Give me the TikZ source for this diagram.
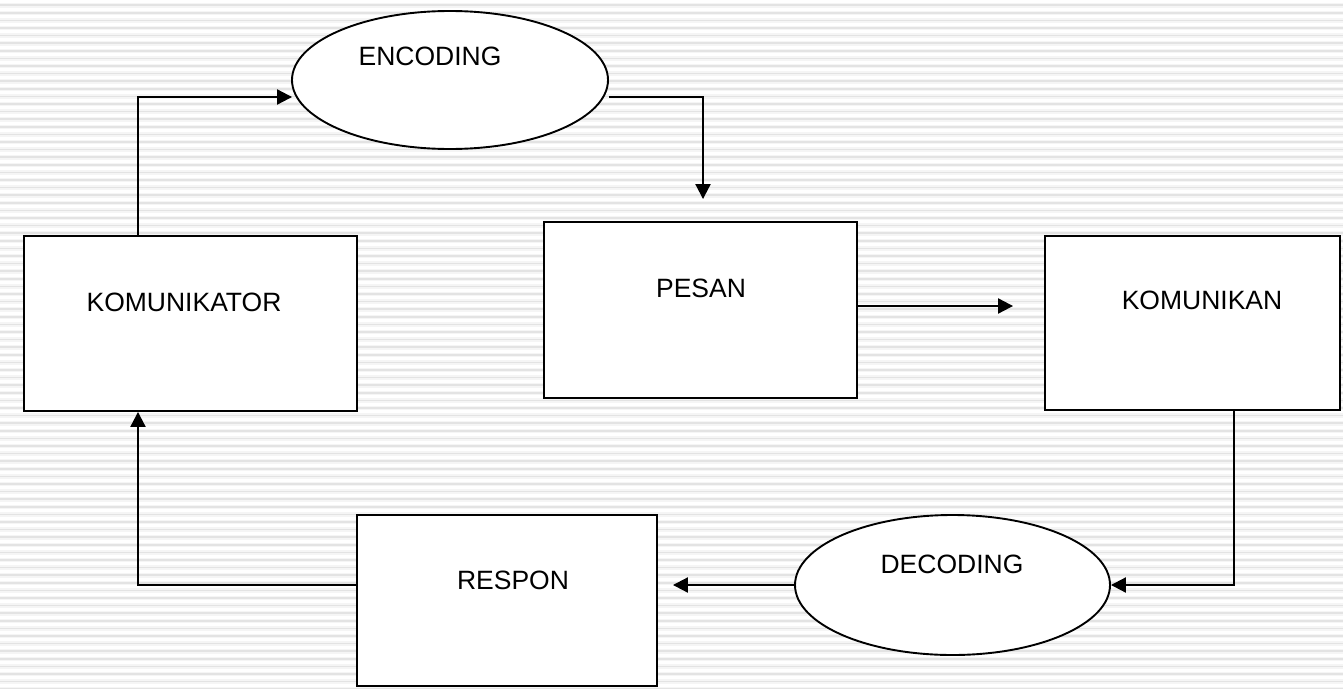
\documentclass[tikz,border=0pt]{standalone}
\usepackage{fontspec}
\setmainfont{Liberation Sans}
\usetikzlibrary{arrows.meta,shapes.geometric,calc}
\begin{document}
\begin{tikzpicture}[x=1pt,y=-1pt,
  boxnode/.style={draw=black,line width=1.9pt,fill=white,rectangle,inner sep=0pt},
  ellnode/.style={draw=black,line width=1.9pt,fill=white,ellipse,inner sep=0pt},
  lbl/.style={font=\fontsize{26.5}{30}\selectfont,anchor=base,inner sep=0pt},
  conn/.style={line width=2.1pt,-{Triangle[length=15pt,width=15pt]}}]
\useasboundingbox (0,0) rectangle (1343,688);
\begin{scope}
\clip (0,0) rectangle (1343,688);
\fill[black!4] (0,0) rectangle (1343,688);
\foreach \k in {0,...,91}{
  \fill[white] (0,\k*7.6) rectangle (1343,\k*7.6+3);
  \fill[black!11] (0,\k*7.6+4.4) rectangle (1343,\k*7.6+6);
}
\end{scope}
% shapes
\node[boxnode,minimum width=333,minimum height=175] (kom) at (190.5,323.5) {};
\node[boxnode,minimum width=313,minimum height=176] (pesan) at (700.5,310) {};
\node[boxnode,minimum width=295,minimum height=174] (kmk) at (1192.5,323) {};
\node[boxnode,minimum width=300,minimum height=171] (resp) at (507,600.5) {};
\node[ellnode,minimum width=316,minimum height=138] (enc) at (450,80) {};
\node[ellnode,minimum width=315,minimum height=140] (dec) at (952.5,585) {};
% labels
\node[lbl] (tkom) at (184,311) {KOMUNIKATOR};
\node[lbl] (tpesan) at (701,297) {PESAN};
\node[lbl] (tkmk) at (1202,309) {KOMUNIKAN};
\node[lbl] (tenc) at (430,65) {ENCODING};
\node[lbl] (tdec) at (952,573) {DECODING};
\node[lbl] (tresp) at (513,589) {RESPON};
% connectors
\draw[conn] ($(kom.north)+(-52.5,0)$) |- ($(enc.west)+(1,17)$);
\draw[conn] ($(enc.east)+(0,17)$) -| ($(pesan.north)+(2.5,-22)$);
\draw[conn] ($(pesan.east)+(0,-4)$) coordinate (p1) -- ($(p1 -| kmk.west)+(-31,0)$);
\draw[conn] ($(kmk.south)+(41.5,0)$) |- (dec.east);
\draw[conn] (dec.west) -- ($(dec.west -| resp.east)+(15,0)$);
\draw[conn] (resp.west |- dec.west) -| ($(kom.south)+(-52.5,0)$);
\end{tikzpicture}
\end{document}
